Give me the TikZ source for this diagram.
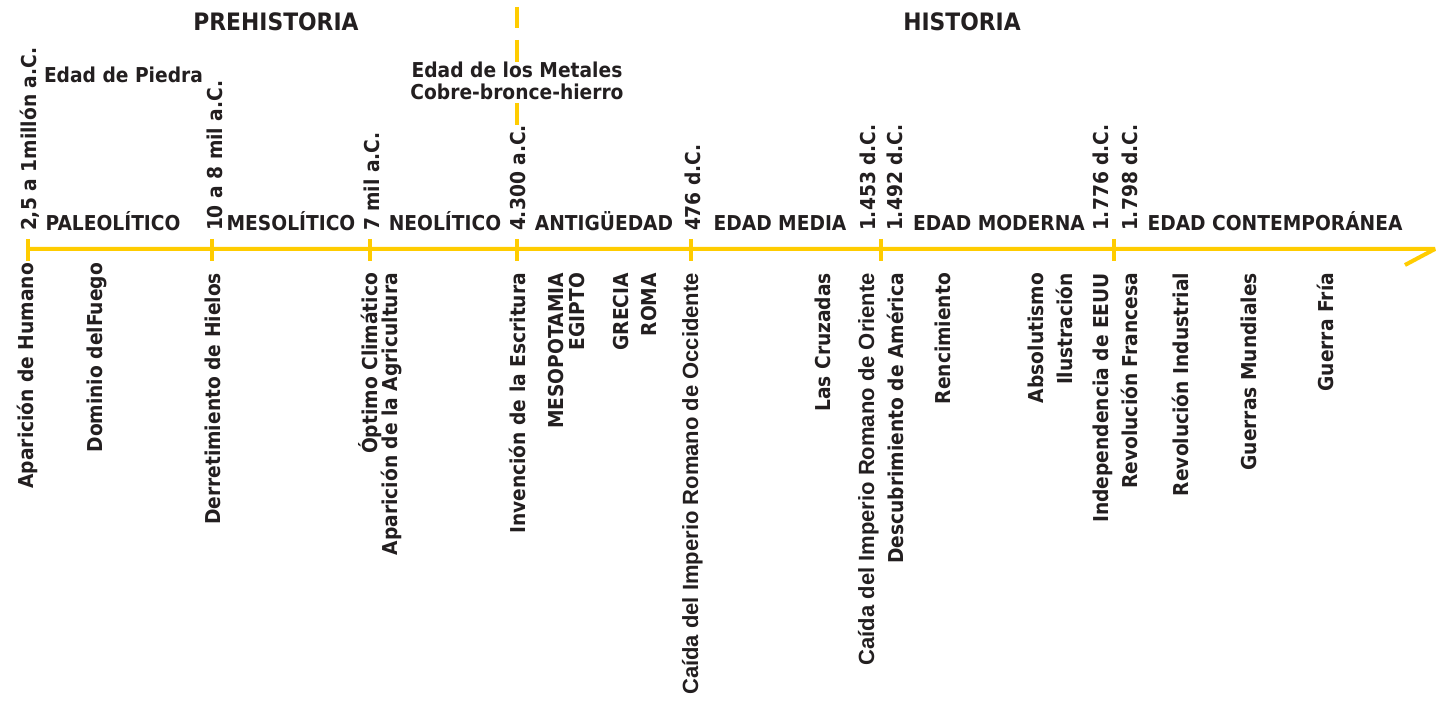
\documentclass[tikz,border=0pt]{standalone}
\usepackage{fontspec}
\setmainfont{DejaVu Sans}[FakeStretch=0.91]
\newfontfamily\arialb{Liberation Sans}
\definecolor{amarillo}{RGB}{255,204,0}
\definecolor{tinta}{RGB}{35,31,32}
\begin{document}
\begin{tikzpicture}[x=1pt,y=-1pt,
  lbl/.style={inner sep=0pt, outer sep=0pt, text=tinta, font=\fontsize{20.5}{22}\selectfont\bfseries},
  titulo/.style={lbl, anchor=base, font=\fontsize{24}{26}\selectfont\bfseries},
  fecha/.style={lbl, rotate=90, anchor=base west},
  evento/.style={lbl, rotate=90, anchor=base east},
  eventob/.style={evento, font=\fontsize{22}{24}\arialb\selectfont\bfseries},
  periodo/.style={lbl, anchor=base},
  eje/.style={draw=amarillo, line width=4pt, line join=bevel},
  marca/.style={draw=amarillo, line width=4pt},
]
\useasboundingbox (0,0) rectangle (1436,708);

% axis
\coordinate (ini) at (28,249);
\coordinate (fin) at (1435,249);
\coordinate (punta) at (1405,265);
\draw[eje] (ini) -- (fin) -- (punta);

% ticks
\foreach \n/\x in {t1/28,t2/212,t3/370,t4/517,t5/691,t6/881,t7/1114}{
  \coordinate (\n a) at (\x,239);
  \coordinate (\n b) at (\x,261);
  \draw[marca] (\n a) -- (\n b);
}

% dashed separator prehistoria / historia
\foreach \n/\a/\b in {d1/7/28,d2/40/62,d3/103/125}{
  \coordinate (\n a) at (517,\a);
  \coordinate (\n b) at (517,\b);
  \draw[marca] (\n a) -- (\n b);
}

% headings
\node[titulo] (prehist) at (276,31) {PREHISTORIA};
\node[titulo] (hist) at (962,31) {HISTORIA};
\node[lbl, anchor=base west] (piedra) at (44,83) {Edad de Piedra};
\node[lbl, anchor=north, align=center] (metales) at (517,62) {Edad de los Metales\\Cobre-bronce-hierro};

% periods
\node[periodo] (paleo) at (113,231) {PALEOLÍTICO};
\node[periodo] (meso) at (291,231) {MESOLÍTICO};
\node[periodo] (neo) at (445,231) {NEOLÍTICO};
\node[periodo] (anti) at (604,231) {ANTIGÜEDAD};
\node[periodo] (media) at (780,231) {EDAD MEDIA};
\node[periodo] (moderna) at (999,231) {EDAD MODERNA};
\node[periodo] (contemp) at (1275,231) {EDAD CONTEMPORÁNEA};

% dates
\node[fecha] (f1) at (36,231) {2,5 a 1millón a.C.};
\node[fecha] (f2) at (222,231) {10 a 8 mil a.C.};
\node[fecha] (f3) at (379,231) {7 mil a.C.};
\node[fecha] (f4) at (525,231) {4.300 a.C.};
\node[fecha] (f5) at (700,231) {476 d.C.};
\node[fecha] (f6) at (875,231) {1.453 d.C.};
\node[fecha] (f7) at (902,231) {1.492 d.C.};
\node[fecha] (f8) at (1108,231) {1.776 d.C.};
\node[fecha] (f9) at (1137,231) {1.798 d.C.};

% events
\node[evento] (e1) at (33,263) {Aparición de Humano};
\node[evento] (e2) at (102,263) {Dominio delFuego};
\node[evento] (e3) at (220,273) {Derretimiento de Hielos};
\node[evento] (e4) at (377,273) {Óptimo Climático};
\node[evento] (e5) at (397,273) {Aparición de la Agricultura};
\node[evento] (e6) at (525,273) {Invención de la Escritura};
\node[evento] (e7) at (563,273) {MESOPOTAMIA};
\node[evento] (e8) at (584,273) {EGIPTO};
\node[evento] (e9) at (628,273) {GRECIA};
\node[evento] (e10) at (656,273) {ROMA};
\node[eventob] (e11) at (698,273) {Caída del Imperio Romano de Occidente};
\node[evento] (e12) at (830,273) {Las Cruzadas};
\node[eventob] (e13) at (874,273) {Caída del Imperio Romano de Oriente};
\node[evento] (e14) at (903,273) {Descubrimiento de América};
\node[evento] (e15) at (950,273) {Rencimiento};
\node[evento] (e16) at (1043,273) {Absolutismo};
\node[evento] (e17) at (1072,273) {Ilustración};
\node[evento] (e18) at (1108,273) {Independencia de EEUU};
\node[evento] (e19) at (1137,273) {Revolución Francesa};
\node[evento] (e20) at (1188,273) {Revolución Industrial};
\node[evento] (e21) at (1256,273) {Guerras Mundiales};
\node[evento] (e22) at (1333,273) {Guerra Fría};
\end{tikzpicture}
\end{document}
